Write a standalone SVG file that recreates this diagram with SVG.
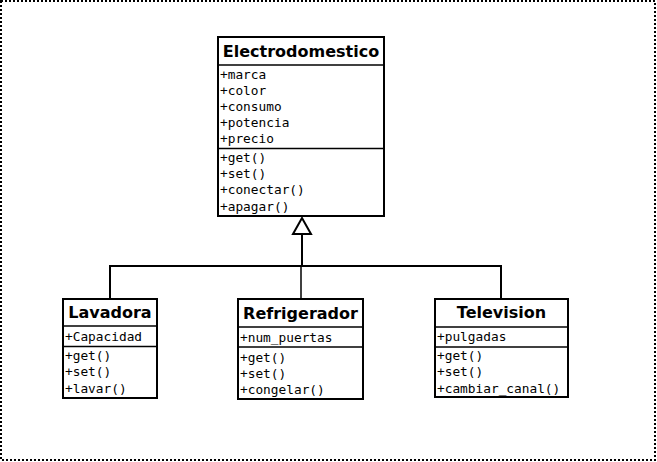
<svg xmlns="http://www.w3.org/2000/svg" width="657" height="462" viewBox="0 0 657 462">
<style>
.box{fill:#fff;stroke:#000;stroke-width:2}
.sep{stroke:#000;stroke-width:1.5}
.title{font-family:"DejaVu Sans",sans-serif;font-weight:bold;font-size:16px;text-anchor:middle;fill:#000}
.m{font-family:"DejaVu Sans Mono",monospace;font-size:12.8px;fill:#000}
.c{stroke:#000;stroke-width:2;fill:none}
</style>
<rect x="1" y="1" width="654" height="459" fill="#fff" stroke="#000" stroke-width="2" stroke-dasharray="2 2"/>
<g id="connectors">
<polyline class="c" points="110,299 110,266 501,266 501,299"/>
<line class="c" x1="302" y1="234" x2="302" y2="266"/>
<line x1="301" y1="266" x2="301" y2="299" stroke="#000" stroke-width="1.5"/>
<polygon points="302,218 293,234 311,234" fill="#fff" stroke="#000" stroke-width="2"/>
</g>
<g id="Electrodomestico">
<rect class="box" x="218" y="37" width="166" height="179"/>
<line class="sep" x1="218" y1="65" x2="384" y2="65"/>
<line class="sep" x1="218" y1="148.5" x2="384" y2="148.5"/>
<text class="title" x="301" y="57">Electrodomestico</text>
<text class="m" x="220" y="79">+marca</text>
<text class="m" x="220" y="95">+color</text>
<text class="m" x="220" y="111">+consumo</text>
<text class="m" x="220" y="127">+potencia</text>
<text class="m" x="220" y="143">+precio</text>
<text class="m" x="220" y="162">+get()</text>
<text class="m" x="220" y="178">+set()</text>
<text class="m" x="220" y="194">+conectar()</text>
<text class="m" x="220" y="211">+apagar()</text>
</g>
<g id="Lavadora">
<rect class="box" x="63" y="299" width="94" height="99"/>
<line class="sep" x1="63" y1="326" x2="157" y2="326"/>
<line class="sep" x1="63" y1="346.5" x2="157" y2="346.5"/>
<text class="title" x="110" y="318">Lavadora</text>
<text class="m" x="65" y="341">+Capacidad</text>
<text class="m" x="65" y="360">+get()</text>
<text class="m" x="65" y="376">+set()</text>
<text class="m" x="65" y="393">+lavar()</text>
</g>
<g id="Refrigerador">
<rect class="box" x="238" y="299" width="125" height="100"/>
<line class="sep" x1="238" y1="327" x2="363" y2="327"/>
<line class="sep" x1="238" y1="347" x2="363" y2="347"/>
<text class="title" x="300.5" y="319">Refrigerador</text>
<text class="m" x="240" y="342">+num_puertas</text>
<text class="m" x="240" y="362">+get()</text>
<text class="m" x="240" y="378">+set()</text>
<text class="m" x="240" y="394">+congelar()</text>
</g>
<g id="Television">
<rect class="box" x="435" y="299" width="133" height="98"/>
<line class="sep" x1="435" y1="327" x2="568" y2="327"/>
<line class="sep" x1="435" y1="347" x2="568" y2="347"/>
<text class="title" x="501.5" y="318">Television</text>
<text class="m" x="437" y="341">+pulgadas</text>
<text class="m" x="437" y="360">+get()</text>
<text class="m" x="437" y="376">+set()</text>
<text class="m" x="437" y="393">+cambiar_canal()</text>
</g>
</svg>
